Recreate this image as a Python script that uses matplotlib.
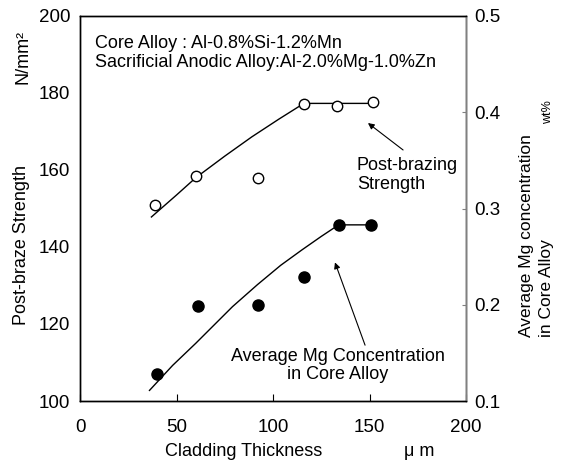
import matplotlib
matplotlib.use("Agg")
import matplotlib.pyplot as plt

plt.rcParams['font.family'] = ['Liberation Sans', 'DejaVu Sans']

# post-brazing strength (N/mm2), open circles
thick_open = [39, 60, 92, 116, 133, 152]
strength = [150.9, 158.4, 157.9, 177.1, 176.6, 177.7]
# hand-drawn trend line through strength points
fit_open_x = [37, 50, 60, 75, 89, 103, 116, 152]
fit_open_y = [147.8, 153.5, 158.0, 163.6, 168.6, 173.2, 177.3, 177.3]

# average Mg concentration in core alloy (wt%), filled circles
thick_fill = [40, 61, 92, 116, 134, 151]
mg_conc = [0.128, 0.199, 0.200, 0.229, 0.283, 0.283]
fit_fill_x = [36, 48, 60, 79, 92, 104, 115, 125, 134, 151]
fit_fill_y = [0.111, 0.137, 0.160, 0.198, 0.221, 0.241, 0.257, 0.271, 0.283, 0.283]

xticks = [0, 50, 100, 150, 200]
yticks_left = [100, 120, 140, 160, 180, 200]
yticks_right = [0.1, 0.2, 0.3, 0.4, 0.5]

W, H = 562, 462
fig = plt.figure(figsize=(W / 100, H / 100), dpi=100)
ax = fig.add_axes([80 / W, 61 / H, 386 / W, 385 / H])
ax2 = ax.twinx()

ax.plot(fit_open_x, fit_open_y, color='black', lw=1)
ax.plot(thick_open, strength, 'o', mfc='white', mec='black', mew=1, ms=7.5, ls='none')
ax2.plot(fit_fill_x, fit_fill_y, color='black', lw=1)
ax2.plot(thick_fill, mg_conc, 'o', color='black', ms=8, ls='none')

ax.set_xlim(0, 200)
ax.set_ylim(100, 200)
ax2.set_ylim(0.1, 0.5)
ax.set_xticks(xticks)
ax.set_yticks(yticks_left)
ax2.set_yticks(yticks_right)
ax2.set_yticklabels([f"{v:.1f}" for v in yticks_right])

ax.tick_params(axis='x', direction='in', length=5, labelsize=13.5, pad=13)
ax.tick_params(axis='y', length=0, labelsize=13.5, pad=7)
ax2.tick_params(axis='y', direction='in', length=3, labelsize=13.5, pad=6, color='#808080')
for a in (ax, ax2):
    for s in a.spines.values():
        s.set_linewidth(1)
ax2.spines['right'].set_color('#808080')

# axis titles
fig.text(22 / W, 1 - 245 / H, "Post-braze Strength", rotation=90, ha='center', va='center', fontsize=13)
fig.text(23 / W, 1 - 57 / H, "N/mm²", rotation=90, ha='center', va='center', fontsize=13)
fig.text(527 / W, 1 - 337 / H, "Average Mg concentration", rotation=90,
         ha='center', va='bottom', fontsize=12.5)
fig.text(547 / W, 1 - 337 / H, "in Core Alloy", rotation=90,
         ha='center', va='bottom', fontsize=12.5)
fig.text(548 / W, 1 - 112 / H, "wt%", rotation=90, ha='center', va='center', fontsize=9)
fig.text(244 / W, 1 - 452 / H, "Cladding Thickness", ha='center', va='center', fontsize=13)
fig.text(419 / W, 1 - 452 / H, "μ m", ha='center', va='center', fontsize=13)

# alloy description
ax.text(8, 190.4, "Core Alloy : Al-0.8%Si-1.2%Mn\nSacrificial Anodic Alloy:Al-2.0%Mg-1.0%Zn",
        ha='left', va='center', fontsize=13, linespacing=1.2)

# series annotations
arrow = dict(arrowstyle='-|>', color='black', lw=0.8, mutation_scale=9, shrinkA=0, shrinkB=0)
ax.text(143.5, 158.7, "Post-brazing\nStrength", ha='left', va='center', fontsize=13, linespacing=1.1)
ax.annotate("", xy=(149.2, 172.2), xytext=(167.4, 165.2), arrowprops=arrow)
ax2.text(133.7, 0.137, "Average Mg Concentration\nin Core Alloy", ha='center', va='center',
         fontsize=13, linespacing=1.1)
ax2.annotate("", xy=(132.1, 0.244), xytext=(147.7, 0.158), arrowprops=arrow)

fig.savefig("out.png", dpi=100)
